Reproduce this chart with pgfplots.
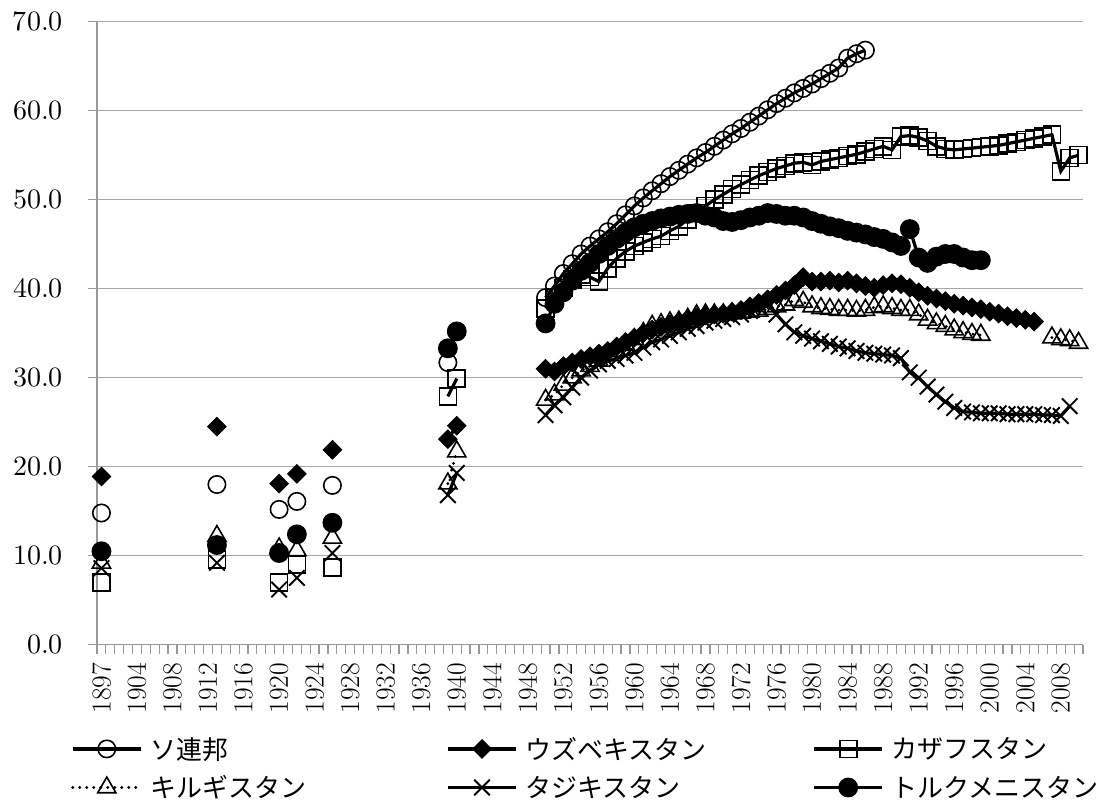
\documentclass[border=0pt]{standalone}
\usepackage{fontspec}
\usepackage{unicode-math}
\usepackage{pgfplots}
\usepackage{pgfplotstable}
\pgfplotsset{compat=1.18}
\newfontfamily\cjk{Noto Sans CJK JP}
\newcommand\yl[1]{\fontsize{27.5}{32}\selectfont #1}

\pgfplotstableread{
x y
0 14.8
1 nan
13 18.0
14 nan
20 15.2
21 nan
22 16.1
23 nan
26 17.9
27 nan
39 31.7
41 nan
50 39.0
51 40.3
52 41.7
53 42.8
54 43.9
55 44.8
56 45.6
57 46.4
58 47.3
59 48.3
60 49.3
61 50.2
62 51.0
63 51.8
64 52.6
65 53.3
66 54.0
67 54.7
68 55.3
69 56.0
70 56.7
71 57.4
72 58.0
73 58.7
74 59.4
75 60.1
76 60.8
77 61.4
78 62.0
79 62.5
80 63.0
81 63.6
82 64.2
83 64.8
84 65.9
85 66.4
86 66.8
}\ussr

\pgfplotstableread{
x y
0 18.9
1 nan
13 24.5
14 nan
20 18.1
21 nan
22 19.2
23 nan
26 21.9
27 nan
39 23.1
40 24.6
41 nan
50 31.0
51 30.7
52 31.3
53 31.7
54 32.1
55 32.4
56 32.7
57 33.0
58 33.5
59 34.0
60 34.5
61 35.0
62 35.4
63 35.7
64 36.0
65 36.3
66 36.6
67 36.8
68 37.0
69 37.1
70 37.2
71 37.4
72 37.6
73 38.0
74 38.4
75 38.8
76 39.3
77 39.8
78 40.4
79 41.3
80 40.8
81 40.8
82 40.9
83 40.7
84 40.9
85 40.6
86 40.3
87 40.1
88 40.4
89 40.6
90 40.5
91 40.1
92 39.6
93 39.2
94 38.9
95 38.6
96 38.3
97 38.1
98 37.9
99 37.7
100 37.4
101 37.2
102 36.9
103 36.7
104 36.5
105 36.3
}\uzb

\pgfplotstableread{
x y
0 7.0
1 nan
13 9.6
14 nan
20 7.0
21 nan
22 9.0
23 nan
26 8.7
27 nan
39 27.9
40 29.9
41 nan
50 37.8
51 39.0
52 40.1
53 41.0
54 41.6
55 41.3
56 40.8
57 42.3
58 43.4
59 44.2
60 44.8
61 45.2
62 45.6
63 45.9
64 46.5
65 47.0
66 47.8
67 48.5
68 49.3
69 50.0
70 50.6
71 51.2
72 51.7
73 52.2
74 52.7
75 53.1
76 53.5
77 53.8
78 54.1
79 54.2
80 53.9
81 54.3
82 54.5
83 54.7
84 54.9
85 55.1
86 55.4
87 55.7
88 56.0
89 55.6
90 57.1
91 57.2
92 57.0
93 56.6
94 56.0
95 55.7
96 55.6
97 55.7
98 55.8
99 55.9
100 56.0
101 56.1
102 56.3
103 56.5
104 56.7
105 56.9
106 57.1
107 57.3
108 53.2
109 54.7
110 55.0
}\kaz

\pgfplotstableread{
x y
0 9.2
1 nan
13 12.2
14 nan
20 10.8
21 nan
22 10.6
23 nan
26 12.0
27 nan
39 18.1
40 21.7
41 nan
50 27.5
51 28.1
52 29.2
53 30.0
54 30.8
55 31.3
56 31.9
57 32.5
58 33.0
59 33.7
60 34.3
61 35.0
62 35.8
63 36.0
64 36.2
65 36.3
66 36.6
67 37.0
68 37.1
69 37.1
70 37.1
71 37.2
72 37.3
73 37.4
74 37.5
75 37.7
76 38.0
77 38.2
78 38.7
79 38.5
80 38.0
81 37.8
82 37.7
83 37.6
84 37.6
85 37.5
86 37.6
87 37.9
88 38.0
89 37.8
90 37.6
91 37.6
92 37.1
93 36.5
94 36.1
95 35.8
96 35.4
97 35.1
98 34.9
99 34.8
100 nan
107 34.5
108 34.3
109 34.2
110 33.9
}\kgz

\pgfplotstableread{
x y
0 8.6
1 nan
13 9.2
14 nan
20 6.2
21 nan
22 7.5
23 nan
26 10.3
27 nan
39 16.8
40 19.3
41 nan
50 25.8
51 26.9
52 27.8
53 28.9
54 30.0
55 30.8
56 31.5
57 31.9
58 32.1
59 32.5
60 32.8
61 33.4
62 34.0
63 34.3
64 34.7
65 35.1
66 35.5
67 35.8
68 36.2
69 36.4
70 36.6
71 36.8
72 37.1
73 37.5
74 37.9
75 38.2
76 37.1
77 36.0
78 35.1
79 34.7
80 34.4
81 34.1
82 33.8
83 33.5
84 33.3
85 33.0
86 32.8
87 32.7
88 32.6
89 32.5
90 32.2
91 30.6
92 30.0
93 29.0
94 28.1
95 27.3
96 26.6
97 26.2
98 26.1
99 26.0
100 26.0
101 26.0
102 25.9
103 25.9
104 25.9
105 25.9
106 25.8
107 25.8
108 25.7
109 26.8
}\tjk

\pgfplotstableread{
x y
0 10.5
1 nan
13 11.2
14 nan
20 10.3
21 nan
22 12.4
23 nan
26 13.7
27 nan
39 33.3
40 35.2
41 nan
50 36.1
51 38.3
52 39.6
53 40.9
54 42.0
55 42.9
56 43.9
57 44.8
58 45.6
59 46.3
60 46.9
61 47.3
62 47.6
63 47.9
64 48.1
65 48.3
66 48.4
67 48.5
68 48.2
69 48.0
70 47.6
71 47.5
72 47.7
73 48.0
74 48.2
75 48.5
76 48.4
77 48.2
78 48.2
79 48.0
80 47.6
81 47.3
82 47.0
83 46.8
84 46.5
85 46.3
86 46.1
87 45.8
88 45.6
89 45.2
90 44.8
91 46.7
92 43.5
93 42.9
94 43.6
95 43.9
96 43.9
97 43.5
98 43.2
99 43.2
}\tkm

\begin{document}
\begin{tikzpicture}
\useasboundingbox (-97pt,-155.3pt) rectangle (1013pt,644.7pt);
\begin{axis}[
  at={(0,0)}, anchor=south west,
  scale only axis, width=986pt, height=623pt,
  xmin=-0.5, xmax=110.5, ymin=0, ymax=70,
  axis lines*=left,
  axis line style={draw=black!40, line width=1.3pt},
  unbounded coords=jump,
  ymajorgrids, grid style={black!35, line width=1.3pt},
  ytick={0,10,...,70},
  minor ytick={0,10,...,70},
  tick align=outside,
  major tick length=0pt,
  minor tick length=9.5pt,
  tick style={draw=black!40, line width=1.2pt},
  xtick={0,4,...,108},
  xticklabels={\yl{1897},\yl{1904},\yl{1908},\yl{1912},\yl{1916},\yl{1920},\yl{1924},\yl{1928},\yl{1932},\yl{1936},\yl{1940},\yl{1944},\yl{1948},\yl{1952},\yl{1956},\yl{1960},\yl{1964},\yl{1968},\yl{1972},\yl{1976},\yl{1980},\yl{1984},\yl{1988},\yl{1992},\yl{1996},\yl{2000},\yl{2004},\yl{2008}},
  minor xtick={-0.5,0.5,...,110.5},
  xticklabel style={rotate=90, anchor=east, inner sep=0pt, font=\fontsize{27.5}{32}\selectfont},
  xticklabel shift=18pt,
  yticklabel style={anchor=east, inner sep=0pt, font=\fontsize{28}{33}\selectfont, /pgf/number format/.cd, fixed, fixed zerofill, precision=1},
  yticklabel shift=34pt,
  legend columns=3,
  legend cell align=left,
  legend style={at={(axis description cs:-0.0294,-0.1448)}, anchor=north west, draw=none, fill=none,
    font=\fontsize{26}{30}\selectfont\cjk, row sep=15pt,
    /tikz/every odd column/.style={column sep=8pt},
    nodes={inner sep=0pt}},
  legend image code/.code={\draw[mark repeat=2,mark phase=2,#1] plot coordinates {(0pt,0pt) (34pt,0pt) (68pt,0pt)};},
]
\addplot[black, line width=3.2pt, mark=o, mark size=8.7pt, mark options={solid, line width=1.6pt}] table {\ussr};
\addlegendentry{\makebox[296pt][l]{ソ連邦}}
\addplot[black, line width=3.2pt, mark=square*, mark size=6.6pt, mark options={solid, rotate=45, line width=0.8pt, fill=black}] table {\uzb};
\addlegendentry{\makebox[287pt][l]{ウズベキスタン}}
\addplot[black, line width=3.2pt, mark=square, mark size=8.5pt, mark options={solid, line width=1.6pt}] table {\kaz};
\addlegendentry{カザフスタン}
\addplot[black, line width=3.2pt, line cap=round, dash pattern=on 0pt off 7pt, mark=triangle, mark size=10.5pt, mark options={solid, line width=1.6pt}] table {\kgz};
\addlegendentry{\makebox[296pt][l]{キルギスタン}}
\addplot[black, line width=3.2pt, mark=x, mark size=11pt, mark options={solid, line width=1.9pt}] table {\tjk};
\addlegendentry{\makebox[287pt][l]{タジキスタン}}
\addplot[black, line width=3.2pt, mark=*, mark size=8.3pt, mark options={solid, fill=black}] table {\tkm};
\addlegendentry{トルクメニスタン}
\end{axis}
\end{tikzpicture}
\end{document}
